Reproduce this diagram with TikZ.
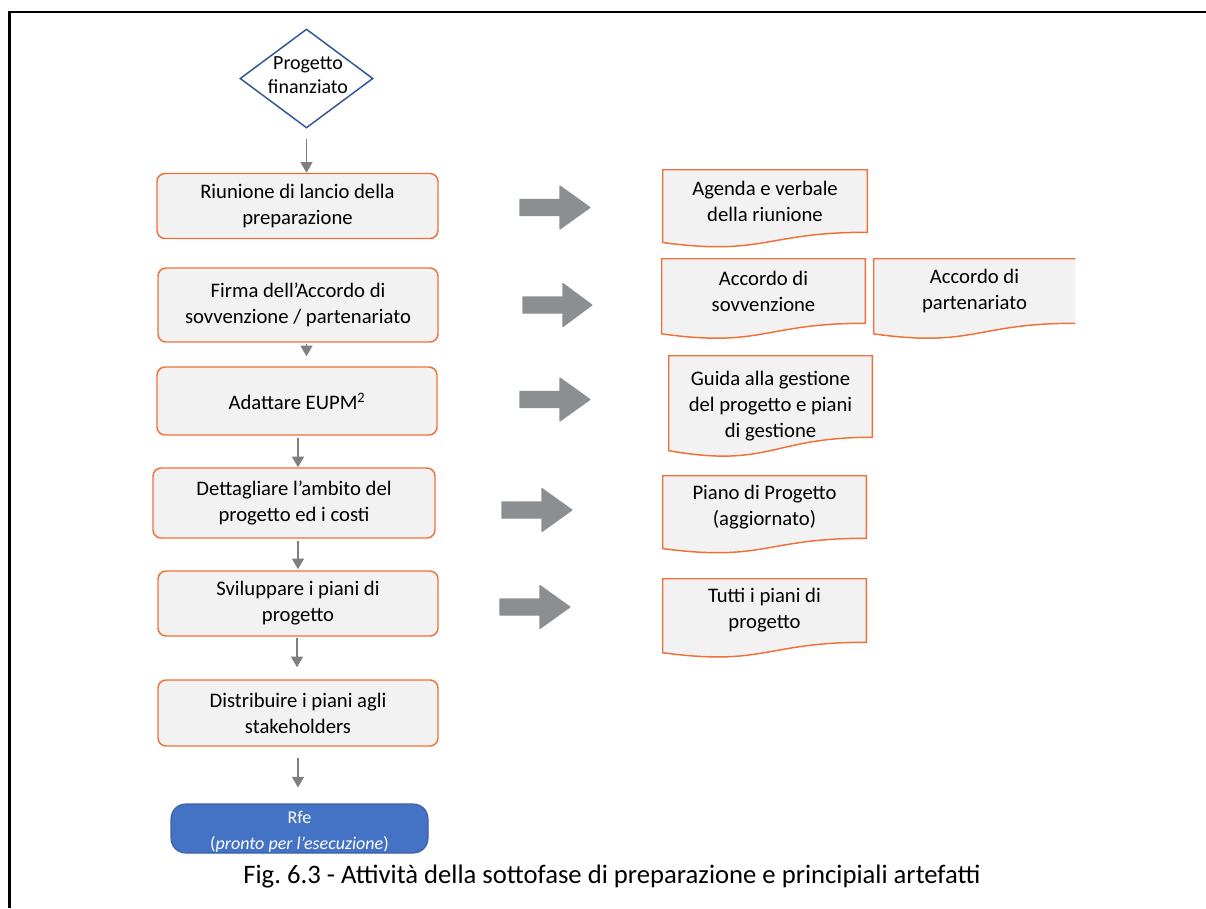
\documentclass[tikz,border=0pt]{standalone}
\usepackage{fontspec}
\setmainfont{Carlito}
\usetikzlibrary{shapes.geometric,arrows.meta,calc,backgrounds}

\definecolor{accent}{HTML}{F0703A}
\definecolor{panel}{HTML}{F2F2F2}
\definecolor{decision}{HTML}{2F5597}
\definecolor{flowgray}{HTML}{7F7F7F}
\definecolor{blockgray}{HTML}{8C8F92}
\definecolor{termfill}{HTML}{4472C4}
\definecolor{termline}{HTML}{3A62A8}

% document outline with a wavy lower edge, drawn from the anchors of node #1
\newcommand{\docoutline}[1]{%
  \path[docpaper] (#1.north west) -- (#1.north east) -- (#1.south east)
    .. controls (#1.south) and ($(#1.north)!1.381!(#1.south)$)
    .. ($(#1.north west)!1.1646!(#1.south west)$) -- cycle;
}
% same outline without its right edge
\newcommand{\docoutlineopen}[1]{%
  \fill[panel] (#1.north west) -- (#1.north east) -- (#1.south east)
    .. controls (#1.south) and ($(#1.north)!1.381!(#1.south)$)
    .. ($(#1.north west)!1.1646!(#1.south west)$) -- cycle;
  \draw[docline] (#1.south east)
    .. controls (#1.south) and ($(#1.north)!1.381!(#1.south)$)
    .. ($(#1.north west)!1.1646!(#1.south west)$) -- (#1.north west) -- (#1.north east);
}
% wide grey block arrow: tail x, head start x, tip x, centre y
\newcommand{\blockarrow}[4]{%
  \filldraw[blockgray, line width=0.8pt, line join=round]
    (#1,#4-8) -- (#2,#4-8) -- (#2,#4-21.5) -- (#3,#4) -- (#2,#4+21.5)
    -- (#2,#4+8) -- (#1,#4+8) -- cycle;
}

\begin{document}
\begin{tikzpicture}[x=0.75pt, y=-0.75pt,
  bodyfont/.style={font=\fontsize{15.5}{19.5}\selectfont},
  stepbox/.style={bodyfont, draw=accent, fill=panel, line width=1.1pt,
    rounded corners=6pt, align=center, inner sep=0pt},
  docbox/.style={bodyfont, align=center, inner sep=0pt},
  docpaper/.style={fill=panel, draw=accent, line width=1.1pt},
  docline/.style={draw=accent, line width=1.1pt},
  conn/.style={draw=flowgray, line width=1pt,
    -{Triangle[width=9pt,length=8pt]}},
]
\useasboundingbox (0,0) rectangle (1206,908);

% frame
\draw[line width=2pt] (9.5,908) -- (9.5,12) -- (1206,12);

% start decision
\node[diamond, draw=decision, line width=1.1pt, minimum width=133*0.75pt,
  minimum height=99*0.75pt, inner sep=0pt] (start) at (306.5,78.5) {};
\node[font=\fontsize{15}{17.5}\selectfont, align=center, inner sep=0pt]
  (starttext) at (308,75) {Progetto\\finanziato};

% activity steps
\node[stepbox, minimum width=281*0.75pt, minimum height=65*0.75pt] (s1)
  at (297.5,206) {Riunione di lancio della\\preparazione};
\node[stepbox, minimum width=280*0.75pt, minimum height=74*0.75pt] (s2)
  at (298,305) {Firma dell’Accordo di\\sovvenzione / partenariato};
\node[stepbox, minimum width=280*0.75pt, minimum height=68*0.75pt] (s3)
  at (297,401) {Adattare EUPM\textsuperscript{2}};
\node[stepbox, minimum width=282*0.75pt, minimum height=70*0.75pt] (s4)
  at (294,503) {Dettagliare l’ambito del\\progetto ed i costi};
\node[stepbox, minimum width=280*0.75pt, minimum height=65*0.75pt] (s5)
  at (298,603.5) {Sviluppare i piani di\\progetto};
\node[stepbox, minimum width=280*0.75pt, minimum height=66*0.75pt] (s6)
  at (298,713) {Distribuire i piani agli\\stakeholders};

% end state
\node[draw=termline, fill=termfill, line width=0.8pt, rounded corners=11pt,
  text=white, align=center, inner sep=0pt,
  font=\fontsize{13.5}{19.5}\selectfont,
  minimum width=257*0.75pt, minimum height=49*0.75pt] (rfe)
  at (299.5,828.5) {};
\node[text=white, align=center, inner sep=0pt,
  font=\fontsize{13.5}{19.5}\selectfont] (rfetext) at (299.5,831.5)
  {Rfe\\(\textit{pronto per l’esecuzione})};

% flow connectors
\draw[conn] ($(start.south)+(0,10)$) -- (start.south |- s1.north);
\draw[conn] ($(s2.south -| start.south)+(0,1)$) -- ($(s3.north -| start.south)+(0,-10)$);
\draw[conn] ($(s3.south)+(1,2)$) -- ($(s3.south |- s4.north)+(1,0)$);
\draw[conn] ($(s4.south)+(4,2)$) -- ($(s4.south |- s5.north)+(4,-1)$);
\draw[conn] ($(s5.south)+(-1,1)$) -- ($(s5.south |- s6.north)+(-1,-12)$);
\draw[conn] ($(s6.south)+(0,11)$) -- ($(s6.south |- rfe.north)+(0,-16)$);

% outputs (artefacts)
\node[docbox, minimum width=204*0.75pt, minimum height=62*0.75pt] (o1)
  at (765,201) {Agenda e verbale\\della riunione};
\node[docbox, minimum width=203*0.75pt, minimum height=64*0.75pt] (o2)
  at (763.5,291) {Accordo di\\sovvenzione};
\node[docbox, minimum width=201*0.75pt, minimum height=64*0.75pt] (o3)
  at (974.5,291) {Accordo di\\partenariato};
\node[docbox, minimum width=203*0.75pt, minimum height=81*0.75pt] (o4)
  at (770.5,396.5) {};
\node[docbox] (o4text) at (770.5,406.5)
  {Guida alla gestione\\del progetto e piani\\di gestione};
\node[docbox, minimum width=203*0.75pt, minimum height=62*0.75pt] (o5)
  at (764.5,507) {Piano di Progetto\\(aggiornato)};
\node[docbox, minimum width=203*0.75pt, minimum height=63*0.75pt] (o6)
  at (764.5,610.5) {Tutti i piani di\\progetto};

\begin{scope}[on background layer]
  \docoutline{o1}
  \docoutline{o2}
  \docoutlineopen{o3}
  \docoutline{o4}
  \docoutline{o5}
  \docoutline{o6}
\end{scope}

% step-to-artefact arrows
\blockarrow{520}{560}{590}{207.5}
\blockarrow{523}{563}{592}{305}
\blockarrow{520}{560}{590}{399.5}
\blockarrow{502}{542}{572}{510}
\blockarrow{500}{540}{570}{607}

% caption
\node[font=\fontsize{20}{24}\selectfont\frenchspacing, inner sep=0pt] (caption)
  at (612,877)
  {Fig. 6.3 - Attività della sottofase di preparazione e principiali artefatti};
\end{tikzpicture}
\end{document}
